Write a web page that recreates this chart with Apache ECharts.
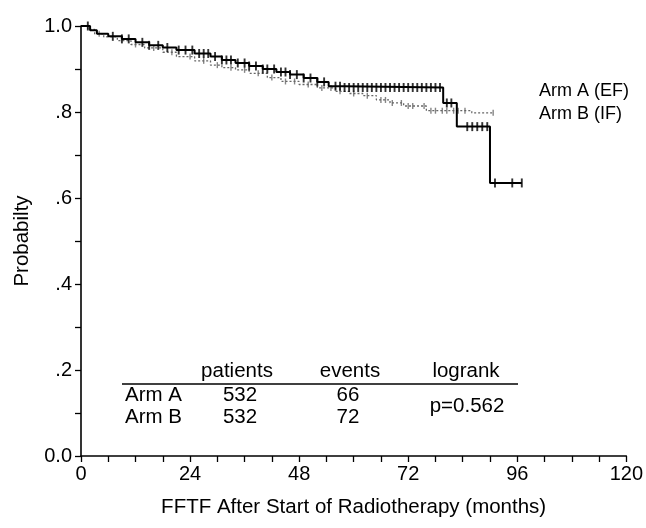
<!DOCTYPE html>
<html>
<head>
<meta charset="utf-8">
<script src="https://cdn.jsdelivr.net/npm/echarts@6/dist/echarts.min.js"></script>
<style>
html,body{margin:0;padding:0;background:#fff;}
#chart{width:646px;height:528px;}
</style>
</head>
<body>
<div id="chart"></div>
<script>
// ---- data ----
const seriesNames = ['Arm A (EF)', 'Arm B (IF)'];

// Kaplan-Meier step curves (time in months, survival probability)
const armATimes = [0, 2, 3.5, 6, 9, 12, 15, 18, 21, 25, 28.5, 31, 34, 37, 40, 43, 46, 49, 52, 54.5, 58, 79.7, 82.7, 90, 97];
const armASurv  = [1.0, 0.99, 0.982, 0.976, 0.970, 0.962, 0.955, 0.950, 0.944, 0.936, 0.929, 0.921, 0.914, 0.907, 0.900, 0.893, 0.887, 0.879, 0.870, 0.860, 0.857, 0.821, 0.766, 0.635, 0.635];

const armBTimes = [0, 1.5, 3, 5, 8, 11, 14, 18, 21, 25, 28.5, 31, 34, 37, 41, 44, 48, 52, 56, 59, 62, 65, 68, 71, 76, 86, 90.7];
const armBSurv  = [1.0, 0.992, 0.982, 0.975, 0.966, 0.957, 0.949, 0.939, 0.929, 0.919, 0.909, 0.903, 0.898, 0.890, 0.880, 0.871, 0.864, 0.856, 0.848, 0.843, 0.838, 0.828, 0.821, 0.814, 0.803, 0.798, 0.798];

// censoring times (months)
const armACensor = [1.5, 7, 9, 10.5, 13.5, 15, 17, 19, 21.5, 23, 24.5, 26, 27, 28, 29.5, 31, 32, 33, 34.5, 36, 37, 38.5, 40, 41, 42.5, 44, 45, 46, 47.5, 49, 50.5, 52, 53.5, 56, 57, 58, 59, 60, 61, 62, 63, 64, 65, 66, 67, 68, 69, 70, 71, 72, 73, 74, 75, 76, 77, 78, 79, 80.5, 81.5, 85, 86.1, 87.2, 88.3, 89.4, 91.1, 94.9, 97];
const armBCensor = [4, 12, 16, 20, 24, 27, 30, 33, 36, 39, 42, 45, 47, 50, 53, 55, 57, 60, 63, 66, 67, 68.5, 70.5, 72, 73, 75.5, 77, 78, 79.5, 80.5, 82, 83, 84.5, 90.7];

// axis ticks
const xTickValues = [0, 24, 48, 72, 96, 120];
const yTickLabels = {'0': '0.0', '0.2': '.2', '0.4': '.4', '0.6': '.6', '0.8': '.8', '1': '1.0'};

// table
const tableHeaders = ['patients', 'events', 'logrank'];
const tableArms = ['Arm A', 'Arm B'];
const tablePatients = [532, 532];
const tableEvents = [66, 72];
const tableLogrank = 'p=0.562';

const xTitle = 'FFTF After Start of Radiotherapy (months)';
const yTitle = 'Probabilty';

// ---- build ----
function zip(ts, ss) { return ts.map((t, i) => [t, ss[i]]); }
function survAt(ts, ss, t) {
  let v = ss[0];
  for (let i = 0; i < ts.length; i++) { if (ts[i] <= t) v = ss[i]; else break; }
  return v;
}
const FONT = '"Liberation Sans", Arial, Helvetica, sans-serif';
const TFONT = '20.5px ' + FONT;

const chart = echarts.init(document.getElementById('chart'), null, {renderer: 'canvas'});

const tableGraphics = [];
const colX = [237, 350, 466];
tableHeaders.forEach((h, i) => tableGraphics.push({
  type: 'text', x: colX[i], y: 371,
  style: {text: h, font: TFONT, fill: '#000', align: 'center', verticalAlign: 'middle'}
}));
tableGraphics.push({type: 'line', shape: {x1: 122, y1: 384, x2: 518, y2: 384}, style: {stroke: '#000', lineWidth: 1.4}});
const rowY = [395, 417];
tableArms.forEach((a, i) => {
  tableGraphics.push({type: 'text', x: 125, y: rowY[i], style: {text: a, font: TFONT, fill: '#000', align: 'left', verticalAlign: 'middle'}});
  tableGraphics.push({type: 'text', x: 240, y: rowY[i], style: {text: String(tablePatients[i]), font: TFONT, fill: '#000', align: 'center', verticalAlign: 'middle'}});
  tableGraphics.push({type: 'text', x: 348, y: rowY[i], style: {text: String(tableEvents[i]), font: TFONT, fill: '#000', align: 'center', verticalAlign: 'middle'}});
});
tableGraphics.push({type: 'text', x: 467, y: 406, style: {text: tableLogrank, font: TFONT, fill: '#000', align: 'center', verticalAlign: 'middle'}});

chart.setOption({
  animation: false,
  backgroundColor: '#fff',
  textStyle: {fontFamily: FONT, color: '#000'},
  grid: {left: 81, right: 18, top: 26, bottom: 72, containLabel: false},
  legend: {
    data: seriesNames,
    orient: 'vertical',
    left: 528, top: 77,
    itemWidth: 0, itemHeight: 0, itemGap: 5,
    textStyle: {fontSize: 18, color: '#000', fontFamily: FONT},
    selectedMode: false
  },
  xAxis: {
    type: 'value', min: 0, max: 120, interval: 24,
    name: xTitle, nameLocation: 'middle', nameGap: 41,
    nameTextStyle: {fontSize: 20.5, color: '#000', fontFamily: FONT},
    axisLine: {show: true, onZero: false, lineStyle: {color: '#000', width: 1.6}},
    axisTick: {show: true, inside: false, length: 6, lineStyle: {color: '#000', width: 1.3}},
    minorTick: {show: true, splitNumber: 4, length: 6, lineStyle: {color: '#000', width: 1.3}},
    axisLabel: {fontSize: 20, color: '#000', margin: 8, fontFamily: FONT,
      formatter: v => xTickValues.indexOf(v) >= 0 ? String(v) : ''},
    splitLine: {show: false}
  },
  yAxis: {
    type: 'value', min: 0, max: 1, interval: 0.2,
    name: yTitle, nameLocation: 'middle', nameGap: 47, nameRotate: 90,
    nameTextStyle: {fontSize: 20.5, color: '#000', fontFamily: FONT},
    axisLine: {show: true, onZero: false, lineStyle: {color: '#000', width: 1.6}},
    axisTick: {show: true, inside: false, length: 6, lineStyle: {color: '#000', width: 1.3}},
    minorTick: {show: true, splitNumber: 2, length: 6, lineStyle: {color: '#000', width: 1.3}},
    axisLabel: {fontSize: 20, color: '#000', margin: 9, fontFamily: FONT,
      formatter: v => yTickLabels[String(+v.toFixed(1))] || ''},
    splitLine: {show: false}
  },
  graphic: tableGraphics,
  series: [
    {
      name: seriesNames[0], type: 'line', step: 'end', symbol: 'none',
      data: zip(armATimes, armASurv),
      lineStyle: {color: '#000', width: 2}, itemStyle: {color: '#000'}, z: 3
    },
    {
      name: seriesNames[1], type: 'line', step: 'end', symbol: 'none',
      data: zip(armBTimes, armBSurv),
      lineStyle: {color: '#666', width: 1.3, type: [2, 2]}, itemStyle: {color: '#666'}, z: 2
    },
    {
      name: 'Arm A censored', type: 'scatter', symbol: 'rect', symbolSize: [1.9, 9],
      data: armACensor.map(t => [t, survAt(armATimes, armASurv, t)]),
      itemStyle: {color: '#000'}, z: 4
    },
    {
      name: 'Arm B censored', type: 'scatter', symbol: 'rect', symbolSize: [1.4, 6],
      data: armBCensor.map(t => [t, survAt(armBTimes, armBSurv, t)]),
      itemStyle: {color: '#666'}, z: 2
    }
  ]
});
</script>
</body>
</html>
